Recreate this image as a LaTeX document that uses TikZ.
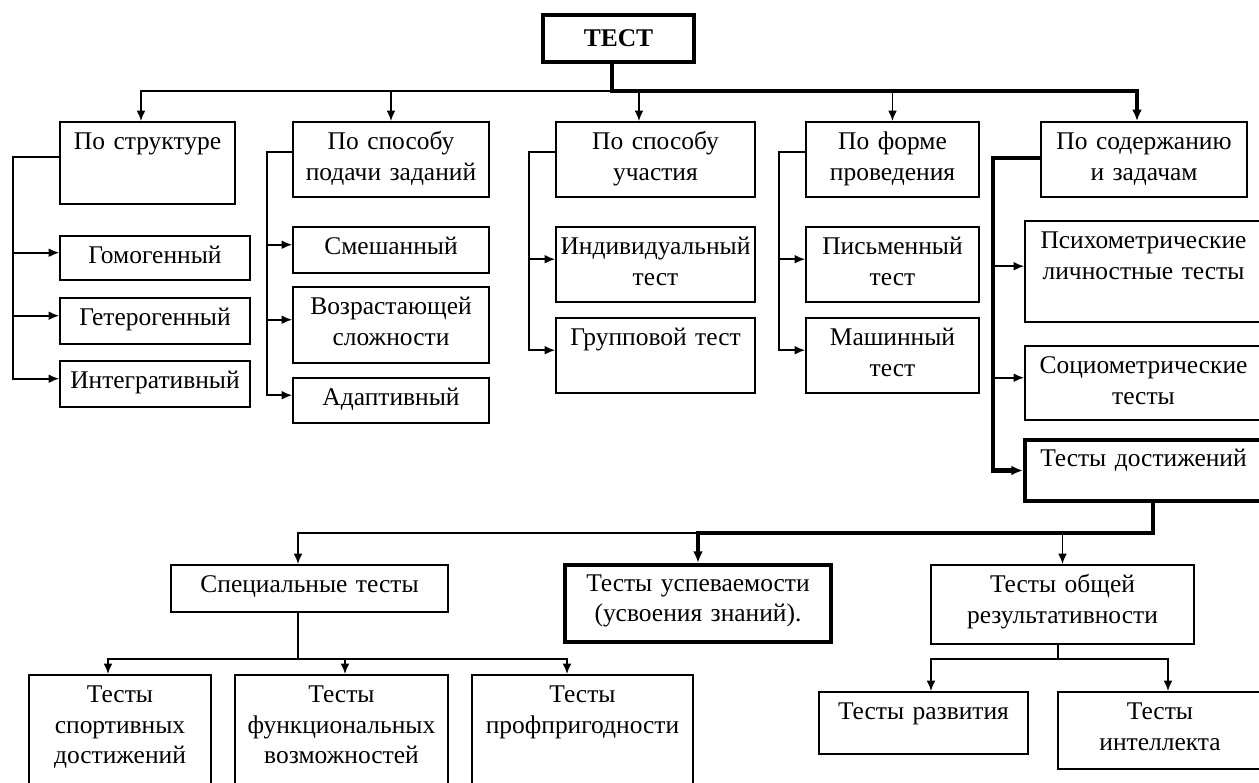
\documentclass[tikz,border=0pt]{standalone}
\usepackage{fontspec}
\setmainfont{Liberation Serif}
\usetikzlibrary{fit,arrows.meta}

\tikzset{
  cell/.style={draw, line width=0.95pt, inner sep=0pt},
  mcell/.style={draw, line width=2.4pt, inner sep=0pt},
  txt/.style={anchor=north, inner sep=0pt, align=center, yshift=-0.18cm,
    text width=4.9cm, font=\fontsize{14.5}{17.2}\selectfont, text height=11pt},
  line/.style={line width=0.95pt},
  arr/.style={-{Latex[length=6pt,width=5pt]}, line width=0.95pt},
  marr/.style={-{Latex[length=6.5pt,width=5.5pt]}, line width=2.4pt},
}

\begin{document}
\begin{tikzpicture}[x=0.02cm, y=-0.02cm]
\useasboundingbox (0,0) rectangle (1259,783);
\clip (0,0) rectangle (1259,783);

% boxes
\node[mcell, fit={(543,15) (694,62)}] (test) {};
\node[inner sep=0pt, font=\fontsize{14.5}{17}\selectfont\bfseries] (l-test) at (test) {ТЕСТ};

\node[cell, fit={(60,122) (235,204)}] (s1) {};
\node[cell, fit={(293,122) (489,197)}] (s2) {};
\node[cell, fit={(556,122) (755,197)}] (s3) {};
\node[cell, fit={(806,122) (979,197)}] (s4) {};
\node[cell, fit={(1041,122) (1247,197)}] (s5) {};
\node[txt] (l-s1) at (s1.north) {По структуре};
\node[txt] (l-s2) at (s2.north) {По способу\\подачи заданий};
\node[txt] (l-s3) at (s3.north) {По способу\\участия};
\node[txt] (l-s4) at (s4.north) {По форме\\проведения};
\node[txt] (l-s5) at (s5.north) {По содержанию\\и задачам};

\node[cell, fit={(60,236) (250,280)}] (c11) {};
\node[cell, fit={(60,298) (250,344)}] (c12) {};
\node[cell, fit={(60,361) (250,407)}] (c13) {};
\node[txt] (l-c11) at (c11.north) {Гомогенный};
\node[txt] (l-c12) at (c12.north) {Гетерогенный};
\node[txt] (l-c13) at (c13.north) {Интегративный};

\node[cell, fit={(293,227) (489,273)}] (c21) {};
\node[cell, fit={(293,287) (489,363)}] (c22) {};
\node[cell, fit={(293,378) (489,423)}] (c23) {};
\node[txt] (l-c21) at (c21.north) {Смешанный};
\node[txt] (l-c22) at (c22.north) {Возрастающей\\сложности};
\node[txt] (l-c23) at (c23.north) {Адаптивный};

\node[cell, fit={(556,227) (755,302)}] (c31) {};
\node[cell, fit={(556,318) (755,393)}] (c32) {};
\node[txt] (l-c31) at (c31.north) {Индивидуальный\\тест};
\node[txt] (l-c32) at (c32.north) {Групповой тест};

\node[cell, fit={(806,227) (979,302)}] (c41) {};
\node[cell, fit={(806,318) (979,393)}] (c42) {};
\node[txt] (l-c41) at (c41.north) {Письменный\\тест};
\node[txt] (l-c42) at (c42.north) {Машинный\\тест};

\node[cell, fit={(1025,221) (1262,322)}] (c51) {};
\node[cell, fit={(1025,346) (1262,420)}] (c52) {};
\node[mcell, fit={(1025,440) (1262,501)}] (dost) {};
\node[txt] (l-c51) at (c51.north) {Психометрические\\личностные тесты};
\node[txt] (l-c52) at (c52.north) {Социометрические\\тесты};
\node[txt] (l-dost) at (dost.north) {Тесты достижений};

\node[cell, fit={(171,565) (448,612)}] (spec) {};
\node[mcell, fit={(565,565) (831,642)}] (usp) {};
\node[cell, fit={(931,565) (1194,644)}] (obsh) {};
\node[txt] (l-spec) at (spec.north) {Специальные тесты};
\node[txt] (l-usp) at (usp.north) {Тесты успеваемости\\(усвоения знаний).};
\node[txt] (l-obsh) at (obsh.north) {Тесты общей\\результативности};

\node[cell, fit={(29,675) (211,800)}] (b1) {};
\node[cell, fit={(235,675) (448,800)}] (b2) {};
\node[cell, fit={(472,675) (693,800)}] (b3) {};
\node[cell, fit={(819,692) (1028,754)}] (razv) {};
\node[cell, fit={(1058,692) (1262,769)}] (intel) {};
\node[txt] (l-b1) at (b1.north) {Тесты\\спортивных\\достижений};
\node[txt] (l-b2) at (b2.north) {Тесты\\функциональных\\возможностей};
\node[txt] (l-b3) at (b3.north) {Тесты\\профпригодности};
\node[txt] (l-razv) at (razv.north) {Тесты развития};
\node[txt] (l-intel) at (intel.north) {Тесты\\интеллекта};

% top level
\coordinate (bus) at (612,91);
\draw[arr] (bus) -| ([xshift=-0.13cm]s1.north);
\draw[arr] (bus) -| (s2.north);
\draw[arr] (bus) -| ([xshift=-0.33cm]s3.north);
\draw[arr] (bus) -| (s4.north);
\draw[marr] (test.south -| bus) -- (bus) -| ([xshift=-0.14cm]s5.north);

% side branches
\coordinate (j1) at (13,157);
\draw[arr] (s1.west |- j1) -- (j1) |- ([yshift=3pt]c13.west);
\draw[arr] (j1) |- ([yshift=3pt]c11.west);
\draw[arr] (j1) |- ([yshift=3pt]c12.west);

\coordinate (j2) at (267,152);
\draw[arr] (s2.west |- j2) -- (j2) |- ([yshift=3pt]c23.west);
\draw[arr] (j2) |- ([yshift=3pt]c21.west);
\draw[arr] (j2) |- ([yshift=3pt]c22.west);

\coordinate (j3) at (529,152);
\draw[arr] (s3.west |- j3) -- (j3) |- ([yshift=3pt]c32.west);
\draw[arr] (j3) |- ([yshift=3pt]c31.west);

\coordinate (j4) at (779,152);
\draw[arr] (s4.west |- j4) -- (j4) |- ([yshift=3pt]c42.west);
\draw[arr] (j4) |- ([yshift=3pt]c41.west);

\coordinate (j5) at (993,158);
\draw[arr] (j5) |- ([yshift=3pt]c51.west);
\draw[arr] (j5) |- ([yshift=3pt]c52.west);
\draw[marr] (s5.west |- j5) -- (j5) |- (dost.west);

% lower level
\coordinate (k1) at (1153,533);
\draw[arr] (usp.north |- k1) -| ([xshift=-0.23cm]spec.north);
\draw[arr] (k1) -| (obsh.north);
\draw[marr] (dost.south -| k1) -- (k1) -| (usp.north);

\coordinate (k2) at (298,659);
\draw[line] (spec.south -| k2) -- (k2);
\draw[arr] (k2) -| ([xshift=-0.24cm]b1.north);
\draw[arr] (k2) -| ([xshift=0.07cm]b2.north);
\draw[arr] (k2) -| ([xshift=-0.31cm]b3.north);

\coordinate (k3) at (1058,659);
\draw[line] (obsh.south -| k3) -- (k3);
\draw[arr] (k3) -| ([xshift=0.15cm]razv.north);
\draw[arr] (k3) -| ([xshift=0.16cm]intel.north);
\end{tikzpicture}
\end{document}
